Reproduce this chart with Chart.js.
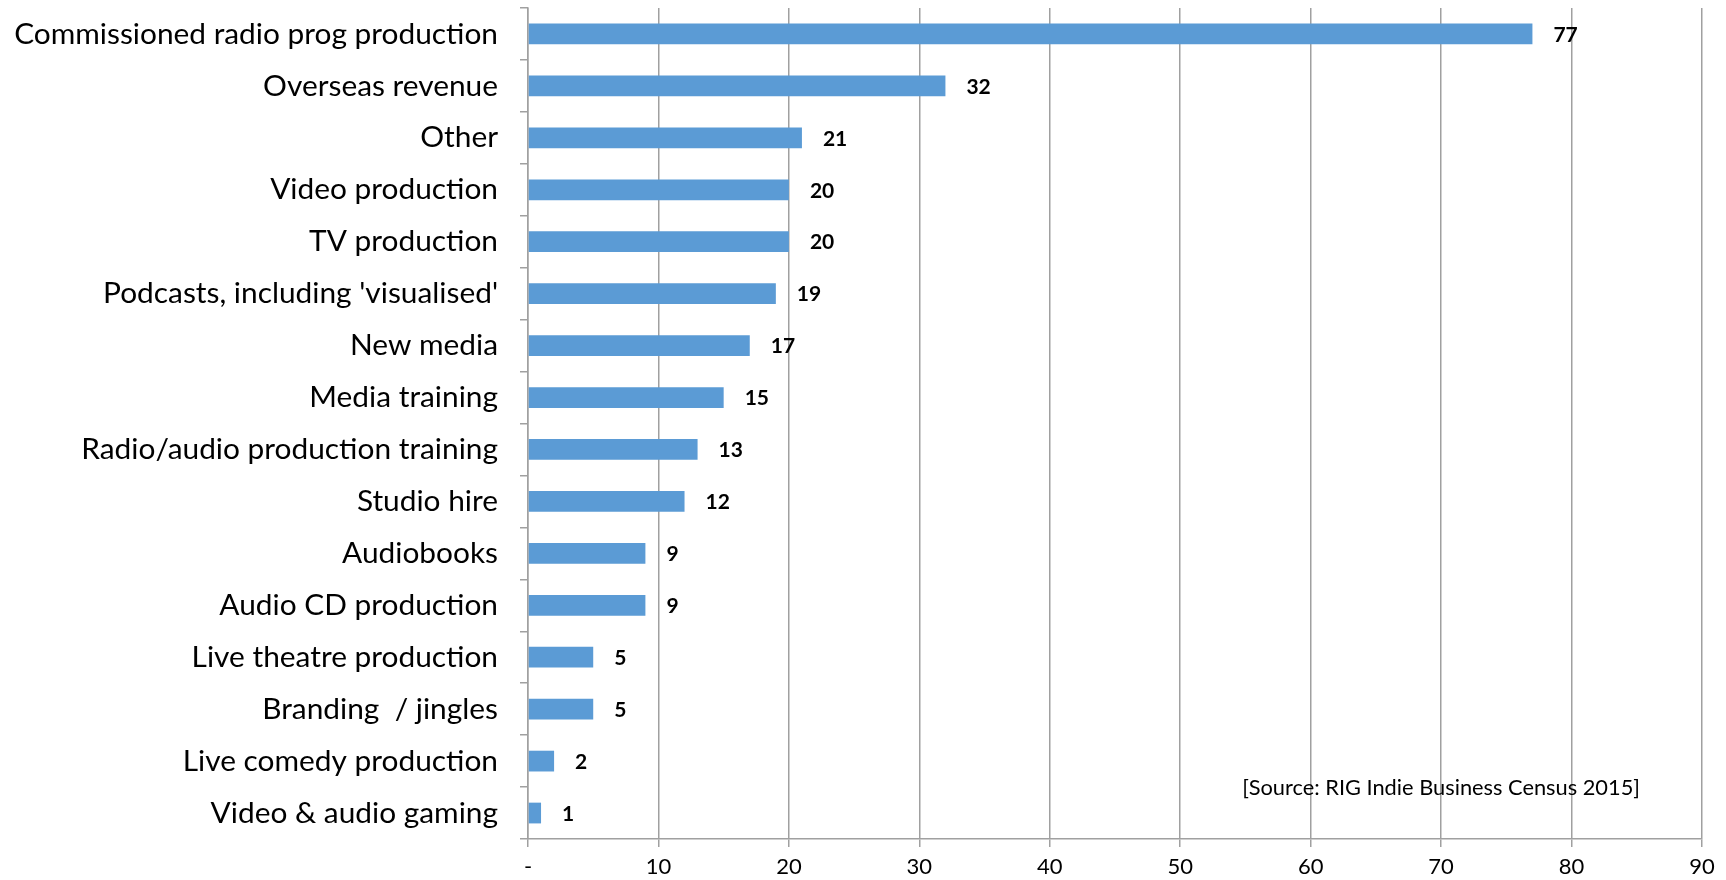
<!DOCTYPE html>
<html>
<head>
<meta charset="utf-8">
<script src="https://cdn.jsdelivr.net/npm/chart.js@4.4.1/dist/chart.umd.min.js"></script>
<style>
  html, body { margin: 0; padding: 0; background: #ffffff; }
  #wrap { width: 1726px; height: 880px; }
</style>
</head>
<body>
<div id="wrap"><canvas id="c" width="1726" height="880"></canvas></div>
<script>
const categories = [
  "Commissioned radio prog production",
  "Overseas revenue",
  "Other",
  "Video production",
  "TV production",
  "Podcasts, including 'visualised'",
  "New media",
  "Media training",
  "Radio/audio production training",
  "Studio hire",
  "Audiobooks",
  "Audio CD production",
  "Live theatre production",
  "Branding  / jingles",
  "Live comedy production",
  "Video & audio gaming"
];
const values = [77, 32, 21, 20, 20, 19, 17, 15, 13, 12, 9, 9, 5, 5, 2, 1];
const xTicks = [0, 10, 20, 30, 40, 50, 60, 70, 80, 90];
const sourceNote = "[Source: RIG Indie Business Census 2015]";

const FONT = "Lato, 'Open Sans', sans-serif";
const mctx = document.createElement('canvas').getContext('2d');
function fitSize(text, target, weight) {
  mctx.font = (weight || 'normal') + ' 100px ' + FONT;
  return 100 * target / mctx.measureText(text).width;
}
const catSize = fitSize(categories[0], 484);
const srcSize = fitSize(sourceNote, 398);
const GRID = '#A0A0A0';

const dataLabels = {
  id: 'dataLabels',
  afterDatasetsDraw(chart) {
    const ctx = chart.ctx;
    const meta = chart.getDatasetMeta(0);
    ctx.save();
    ctx.font = 'bold 21px ' + FONT;
    ctx.fillStyle = '#000';
    ctx.textAlign = 'left';
    ctx.textBaseline = 'middle';
    meta.data.forEach((bar, i) => {
      ctx.fillText(String(values[i]), bar.x + 21, bar.y + 1);
    });
    ctx.restore();
  }
};

const sourcePlugin = {
  id: 'sourceNote',
  afterDraw(chart) {
    const ctx = chart.ctx;
    const a = chart.chartArea;
    ctx.save();
    ctx.font = srcSize.toFixed(2) + 'px ' + FONT;
    ctx.fillStyle = '#000';
    ctx.textAlign = 'right';
    ctx.textBaseline = 'middle';
    ctx.fillText(sourceNote, a.right - 62, a.bottom - 51);
    ctx.restore();
  }
};

new Chart(document.getElementById('c'), {
  type: 'bar',
  data: {
    labels: categories,
    datasets: [{
      data: values,
      backgroundColor: '#5B9BD5',
      borderWidth: 0,
      categoryPercentage: 1.0,
      barPercentage: 0.4
    }]
  },
  options: {
    indexAxis: 'y',
    responsive: false,
    animation: false,
    layout: { padding: { left: 0, right: 24, top: 8, bottom: 0 } },
    plugins: {
      legend: { display: false },
      tooltip: { enabled: false },
      title: { display: false }
    },
    scales: {
      x: {
        type: 'linear',
        min: 0,
        max: 90,
        afterBuildTicks(axis) { axis.ticks = xTicks.map(v => ({ value: v })); },
        afterFit(scale) { scale.height = 41; scale.paddingLeft = 0; },
        grid: { color: GRID, lineWidth: 1.5, drawTicks: true, tickLength: 8, tickColor: GRID },
        border: { display: true, color: GRID, width: 1.5 },
        ticks: {
          color: '#000',
          padding: 8,
          maxRotation: 0,
          font: { family: FONT, size: 22, lineHeight: 1.1 },
          callback: (v) => v === 0 ? '-' : String(v)
        }
      },
      y: {
        afterFit(scale) { scale.width = 528; scale.paddingTop = 0; scale.paddingBottom = 0; },
        grid: { display: true, drawOnChartArea: false, drawTicks: true, tickLength: 8, offset: true, color: GRID, tickColor: GRID, lineWidth: 1.5 },
        border: { display: true, color: GRID, width: 1.5 },
        ticks: {
          color: '#000',
          padding: 22,
          autoSkip: false,
          font: { family: FONT, size: catSize }
        }
      }
    }
  },
  plugins: [dataLabels, sourcePlugin]
});
</script>
</body>
</html>
